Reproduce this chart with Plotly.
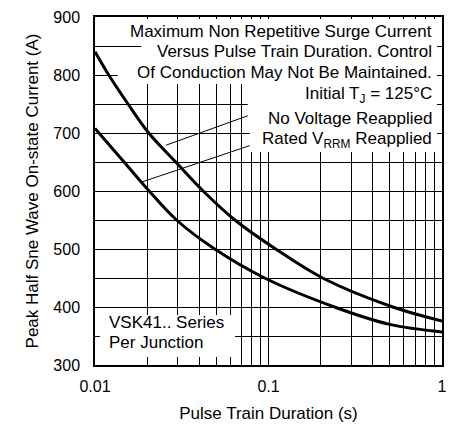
import plotly.graph_objects as go

# Data
duration_no_voltage = [0.01, 0.012, 0.0155, 0.0204, 0.0292, 0.042, 0.064, 0.11, 0.205, 0.52, 1.0]
current_no_voltage = [840, 800, 750, 700, 650, 600, 550, 500, 450, 400, 376]

duration_rated = [0.01, 0.0147, 0.0205, 0.0295, 0.049, 0.095, 0.24, 0.5, 1.0]
current_rated = [708, 650, 600, 550, 500, 450, 400, 370, 357]

x_tick_values = [0.01, 0.02, 0.03, 0.04, 0.05, 0.06, 0.07, 0.08, 0.09,
                 0.1, 0.2, 0.3, 0.4, 0.5, 0.6, 0.7, 0.8, 0.9, 1]
x_tick_labels = ["0.01", "", "", "", "", "", "", "", "",
                 "0.1", "", "", "", "", "", "", "", "", "1"]
y_tick_values = [300, 350, 400, 450, 500, 550, 600, 650, 700, 750, 800, 850, 900]
y_tick_labels = ["300", "", "400", "", "500", "", "600", "", "700", "", "800", "", "900"]

# leader lines (text -> curve)
leader_no_voltage_x = [0.078, 0.0257]
leader_no_voltage_y = [731, 679]
leader_rated_x = [0.0793, 0.0184]
leader_rated_y = [679, 615]

FONT = "Liberation Sans, Arial, sans-serif"

fig = go.Figure()
fig.add_trace(go.Scatter(x=duration_no_voltage, y=current_no_voltage, mode="lines",
                         line=dict(color="black", width=3, shape="spline", smoothing=1.0),
                         showlegend=False, hoverinfo="skip"))
fig.add_trace(go.Scatter(x=duration_rated, y=current_rated, mode="lines",
                         line=dict(color="black", width=3, shape="spline", smoothing=1.0),
                         showlegend=False, hoverinfo="skip"))
fig.add_trace(go.Scatter(x=leader_no_voltage_x, y=leader_no_voltage_y, mode="lines",
                         line=dict(color="black", width=1), showlegend=False, hoverinfo="skip"))
fig.add_trace(go.Scatter(x=leader_rated_x, y=leader_rated_y, mode="lines",
                         line=dict(color="black", width=1), showlegend=False, hoverinfo="skip"))

L, R, T, B = 95, 447, 17, 365
W, H = R - L, B - T

def px(x):
    return (x - L) / W

def py(y):
    return (B - y) / H

# white boxes hiding the grid behind the text
boxes = [
    (97, 19, 442, 42),
    (142, 41, 442, 62),
    (118, 61, 442, 84),
    (250, 84, 442, 107),
    (250, 107, 442, 128),
    (252, 128, 442, 152),
    (100, 315, 237, 357),
]
for x0, y0, x1, y1 in boxes:
    fig.add_shape(type="rect", xref="paper", yref="paper",
                  x0=px(x0), x1=px(x1), y0=py(y1), y1=py(y0),
                  fillcolor="white", line=dict(width=0), layer="above")

right_texts = [
    ("Maximum Non Repetitive Surge Current", 31),
    ("Versus Pulse Train Duration. Control", 52),
    ("Of Conduction May Not Be Maintained.", 72),
    ("Initial T<sub>J</sub> = 125°C", 95),
    ("No Voltage Reapplied", 118),
    ("Rated V<sub>RRM</sub> Reapplied", 140),
]
for txt, yc in right_texts:
    fig.add_annotation(x=px(439), y=py(yc), xref="paper", yref="paper",
                       text=txt, showarrow=False, xanchor="right", yanchor="middle",
                       font=dict(family=FONT, size=17, color="black"))

for txt, yc in [("VSK41.. Series", 322), ("Per Junction", 342)]:
    fig.add_annotation(x=px(107), y=py(yc), xref="paper", yref="paper",
                       text=txt, showarrow=False, xanchor="left", yanchor="middle",
                       font=dict(family=FONT, size=17, color="black"))

fig.update_xaxes(type="log", range=[-2, 0], tickmode="array",
                 tickvals=x_tick_values, ticktext=x_tick_labels,
                 showgrid=True, gridcolor="black", gridwidth=1,
                 showline=True, linecolor="black", linewidth=1.5, mirror=True,
                 ticks="", ticklabelstandoff=6, zeroline=False,
                 ticklabeloverflow="allow",
                 tickfont=dict(family=FONT, size=16, color="black"),
                 title=dict(text="Pulse Train Duration (s)", standoff=13,
                            font=dict(family=FONT, size=17, color="black")))
fig.update_yaxes(range=[300, 900], tickmode="array",
                 tickvals=y_tick_values, ticktext=y_tick_labels,
                 showgrid=True, gridcolor="black", gridwidth=1,
                 showline=True, linecolor="black", linewidth=1.5, mirror=True,
                 ticks="", ticklabelstandoff=10, zeroline=False,
                 tickfont=dict(family=FONT, size=16, color="black"),
                 title=dict(text="Peak Half Sne Wave On-state Current (A)", standoff=10,
                            font=dict(family=FONT, size=17, color="black")))

fig.update_layout(width=449, height=426, margin=dict(l=L, r=449 - R, t=T, b=426 - B),
                  paper_bgcolor="white", plot_bgcolor="white", showlegend=False)

fig.write_html("out.html", config={"displayModeBar": False},
               post_script="document.body.style.margin='0';document.body.style.padding='0';")
